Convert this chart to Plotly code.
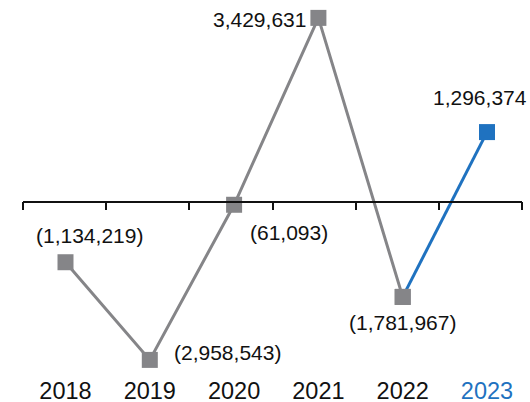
import plotly.graph_objects as go

# Yearly net change
years = ["2018", "2019", "2020", "2021", "2022", "2023"]
values = [-1134219, -2958543, -61093, 3429631, -1781967, 1296374]

GRAY = "#858588"
BLUE = "#1f72c0"
FONT = "Liberation Sans, Arial, Helvetica, sans-serif"


def fmt(v):
    s = f"{abs(v):,}"
    return f"({s})" if v < 0 else s


# label placement around each point: (xanchor, xshift, yshift)
label_pos = [
    ("center", 24, 27),
    ("left", 22, 7),
    ("left", 14, -28),
    ("right", -10, -2),
    ("center", 0, -26),
    ("center", -7, 35),
]

fig = go.Figure()

# latest-year segment in blue
fig.add_trace(go.Scatter(
    x=years[-2:], y=values[-2:], mode="lines+markers",
    line=dict(color=BLUE, width=3),
    marker=dict(symbol="square", size=16, color=[GRAY, BLUE]),
    cliponaxis=False, showlegend=False, hoverinfo="skip",
))
# earlier years in gray
fig.add_trace(go.Scatter(
    x=years[:-1], y=values[:-1], mode="lines+markers",
    line=dict(color=GRAY, width=3),
    marker=dict(symbol="square", size=16, color=GRAY),
    cliponaxis=False, showlegend=False, hoverinfo="skip",
))
# zero baseline axis carrier
fig.add_trace(go.Scatter(
    x=[0], y=[None], xaxis="x2", mode="markers",
    showlegend=False, hoverinfo="skip",
))

for i, (v, (xa, xs, ys)) in enumerate(zip(values, label_pos)):
    fig.add_annotation(
        x=i, y=v, xref="x", yref="y", text=fmt(v), showarrow=False,
        xanchor=xa, yanchor="middle", xshift=xs, yshift=ys,
        font=dict(family=FONT, size=21, color="#111111"),
    )

tick_text = [y if y != years[-1] else f'<span style="color:{BLUE}">{y}</span>' for y in years]

t, b = 10, 40
plot_h = 402 - t - b
px_per_unit = 53.54e-6
zero_px = 201.5
ymax = (zero_px - t) / px_per_unit
ymin = ymax - plot_h / px_per_unit
zero_pos = (402 - b - zero_px) / plot_h

l, r = 23, 8
plot_w = 530 - l - r
step_px = 84.3
x0 = -(65.5 - l) / step_px
x1 = x0 + plot_w / step_px

fig.update_layout(
    width=530, height=402,
    margin=dict(l=l, r=r, t=t, b=b),
    paper_bgcolor="white", plot_bgcolor="white",
    font=dict(family=FONT, color="#111111"),
    xaxis=dict(
        type="category", categoryorder="array", categoryarray=years,
        range=[x0, x1], showline=False, showgrid=False, zeroline=False,
        ticks="", tickvals=years, ticktext=tick_text, ticklabelstandoff=12,
        tickfont=dict(size=23.5, family=FONT, color="#111111"),
        automargin=False,
    ),
    xaxis2=dict(
        overlaying="x", anchor="free", position=zero_pos,
        range=[-0.5, 5.5], showgrid=False, zeroline=False,
        showline=True, linecolor="#111111", linewidth=1.5,
        ticks="outside", ticklen=8, tickwidth=1.5, tickcolor="#111111",
        tickvals=[-0.5 + i for i in range(7)], showticklabels=False,
        automargin=False,
    ),
    yaxis=dict(visible=False, range=[ymin, ymax], automargin=False),
)

fig.write_html("out.html")
